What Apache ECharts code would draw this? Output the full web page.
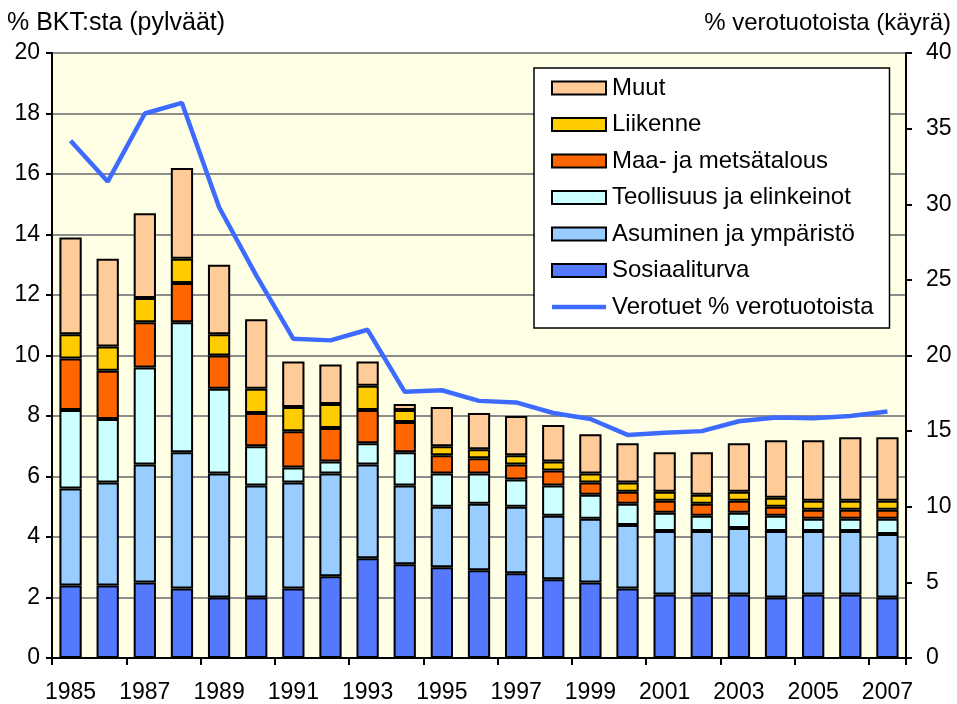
<!DOCTYPE html>
<html>
<head>
<meta charset="utf-8">
<script src="https://cdn.jsdelivr.net/npm/echarts@6/dist/echarts.min.js"></script>
<style>html,body{margin:0;padding:0;background:#fff}#c{width:957px;height:704px}</style>
</head>
<body>
<div id="c"></div>
<script>
const years = ['1985','1986','1987','1988','1989','1990','1991','1992','1993','1994','1995','1996','1997','1998','1999','2000','2001','2002','2003','2004','2005','2006','2007'];
const sosiaaliturva = [2.4,2.4,2.5,2.3,2.0,2.0,2.3,2.7,3.3,3.1,3.0,2.9,2.8,2.6,2.5,2.3,2.1,2.1,2.1,2.0,2.1,2.1,2.0];
const asuminen      = [3.2,3.4,3.9,4.5,4.1,3.7,3.5,3.4,3.1,2.6,2.0,2.2,2.2,2.1,2.1,2.1,2.1,2.1,2.2,2.2,2.1,2.1,2.1];
const teollisuus    = [2.6,2.1,3.2,4.3,2.8,1.3,0.5,0.4,0.7,1.1,1.1,1.0,0.9,1.0,0.8,0.7,0.6,0.5,0.5,0.5,0.4,0.4,0.5];
const maa           = [1.7,1.6,1.5,1.3,1.1,1.1,1.2,1.1,1.1,1.0,0.6,0.5,0.5,0.5,0.4,0.4,0.4,0.4,0.4,0.3,0.3,0.3,0.3];
const liikenne      = [0.8,0.8,0.8,0.8,0.7,0.8,0.8,0.8,0.8,0.4,0.3,0.3,0.3,0.3,0.3,0.3,0.3,0.3,0.3,0.3,0.3,0.3,0.3];
const muut          = [3.2,2.9,2.8,3.0,2.3,2.3,1.5,1.3,0.8,0.2,1.3,1.2,1.3,1.2,1.3,1.3,1.3,1.4,1.6,1.9,2.0,2.1,2.1];
const verotuet      = [34.2,31.5,36.0,36.7,29.8,25.3,21.1,21.0,21.7,17.6,17.7,17.0,16.9,16.2,15.8,14.75,14.9,15.0,15.65,15.9,15.85,16.0,16.3];
const leftTicks = {min:0, max:20, interval:2};
const rightTicks = {min:0, max:40, interval:5};

const FONT = 'Liberation Sans, Arial, sans-serif';
const LINE_COLOR = '#3D6BFF';
const chart = echarts.init(document.getElementById('c'), null, {renderer:'canvas'});
function bar(name, data, color){
  return {name, type:'bar', stack:'s', data, barWidth:'60%',
    itemStyle:{color, borderColor:'#000', borderWidth:2}, emphasis:{disabled:true}};
}
const option = {
  animation:false,
  textStyle:{fontFamily:FONT},
  title:[
    {text:'% BKT:sta (pylväät)', left:7, top:11, padding:0, textStyle:{fontFamily:FONT, fontSize:25, fontWeight:'normal', color:'#000'}},
    {text:'% verotuotoista (käyrä)', right:6, top:11, padding:0, textStyle:{fontFamily:FONT, fontSize:24, fontWeight:'normal', color:'#000'}}
  ],
  grid:{left:52, right:51, top:53, bottom:44, show:true, backgroundColor:'#FFFFE6', borderColor:'#000', borderWidth:2, containLabel:false},
  legend:{
    orient:'vertical', left:534, top:68,
    backgroundColor:'#fff', borderColor:'#000', borderWidth:1.5,
    padding:[8,16,9,17], itemWidth:54, itemHeight:13, itemGap:12.5,
    textStyle:{fontFamily:FONT, fontSize:24, color:'#000', padding:[0,0,0,1]},
    data:[
      {name:'Muut', icon:'rect'},
      {name:'Liikenne', icon:'rect'},
      {name:'Maa- ja metsätalous', icon:'rect'},
      {name:'Teollisuus ja elinkeinot', icon:'rect'},
      {name:'Asuminen ja ympäristö', icon:'rect'},
      {name:'Sosiaaliturva', icon:'rect'},
      {name:'Verotuet % verotuotoista', icon:'path://M0,0 L108,0 L108,9 L0,9 Z', itemStyle:{color:LINE_COLOR, borderWidth:0}}
    ],
    selectedMode:false
  },
  xAxis:{type:'category', data:years,
    axisLine:{lineStyle:{color:'#000', width:2}},
    axisTick:{show:true, length:7, lineStyle:{color:'#000', width:2}},
    axisLabel:{interval:1, fontFamily:FONT, fontSize:23, color:'#000', margin:23}
  },
  yAxis:[
    {type:'value', min:leftTicks.min, max:leftTicks.max, interval:leftTicks.interval, position:'left',
      axisLine:{show:true, lineStyle:{color:'#000', width:2}},
      axisTick:{show:true, length:6, lineStyle:{color:'#000', width:2}},
      axisLabel:{fontFamily:FONT, fontSize:23, color:'#000', margin:12},
      splitLine:{show:true, lineStyle:{color:'#8C8C8C', width:2}}},
    {type:'value', min:rightTicks.min, max:rightTicks.max, interval:rightTicks.interval, position:'right',
      axisLine:{show:true, lineStyle:{color:'#000', width:2}},
      axisTick:{show:true, length:6, lineStyle:{color:'#000', width:2}},
      axisLabel:{fontFamily:FONT, fontSize:23, color:'#000', margin:20},
      splitLine:{show:false}}
  ],
  series:[
    bar('Sosiaaliturva', sosiaaliturva, '#5479FF'),
    bar('Asuminen ja ympäristö', asuminen, '#99CCFF'),
    bar('Teollisuus ja elinkeinot', teollisuus, '#CCFFFF'),
    bar('Maa- ja metsätalous', maa, '#FF6600'),
    bar('Liikenne', liikenne, '#FFCC00'),
    bar('Muut', muut, '#FFCC99'),
    {name:'Verotuet % verotuotoista', type:'line', yAxisIndex:1, data:verotuet,
      symbol:'none', showSymbol:false, lineStyle:{color:LINE_COLOR, width:4.5}, itemStyle:{color:LINE_COLOR},
      z:5, emphasis:{disabled:true}}
  ]
};
chart.setOption(option);
</script>
</body>
</html>
